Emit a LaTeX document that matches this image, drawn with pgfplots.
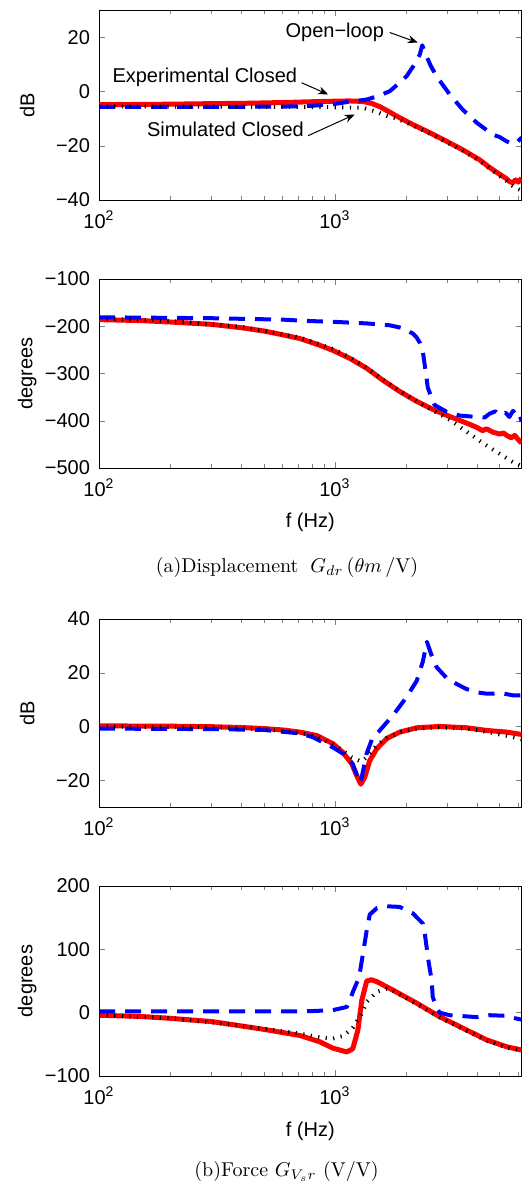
\documentclass[border=0pt]{standalone}
\usepackage{pgfplots}
\pgfplotsset{compat=1.18}
\usepackage{fontspec}
\newfontfamily\helv{Liberation Sans}
\usetikzlibrary{arrows.meta}
\definecolor{mred}{RGB}{255,0,0}
\definecolor{mblue}{RGB}{0,0,255}

\pgfplotsset{every axis/.append style={
    width=211.3pt, scale only axis,
    xmin=100, xmax=6200,
    xtick={100,1000}, xticklabels={10\textsuperscript{2},10\textsuperscript{3}},
    minor xtick={200,300,400,500,600,700,800,900,2000,3000,4000,5000,6000},
    tick align=inside, major tick length=3pt, minor tick length=2pt,
    tick label style={font=\helv\fontsize{10}{12}\selectfont},
    xticklabel style={yshift=-2pt},
    yticklabel style={xshift=-1pt},
    label style={font=\helv\fontsize{10}{12}\selectfont},
    ylabel style={at={(axis description cs:-0.17,0.5)}, anchor=center},
    xlabel style={at={(axis description cs:0.5,-0.29)}, anchor=center},
}}

\begin{document}
\begin{tikzpicture}
\useasboundingbox (0,0) rectangle (263.5pt,-593pt);

% ---------- Axis 1: displacement magnitude ----------
\begin{axis}[xmode=log, at={(49.5pt,-100pt)}, anchor=south west, height=95pt,
  ymin=-40, ymax=30, ytick={-40,-20,0,20}, yticklabels={−40,−20,0,20},
  ylabel={dB}]
\addplot[mred, line width=2.5pt, line join=round, mark=none] coordinates {(100,-4.9)(150,-4.8)(200,-4.7)(300,-4.5)(400,-4.4)(600,-4.1)(800,-3.8)(1000,-3.6)(1150,-3.5)(1314,-3.7)(1430,-4.4)(1551,-5.6)(1700,-7.5)(1831,-9.1)(2140,-12.2)(2527,-15.2)(2983,-18.4)(3486,-21.5)(4116,-25.2)(4500,-27.8)(4859,-29.8)(5100,-31)(5357,-32.2)(5500,-33.2)(5679,-33.6)(5850,-32.6)(6000,-33.4)(6200,-32)};
\addplot[mblue, line width=2pt, line join=round, dash pattern=on 8pt off 5pt, mark=none] coordinates {(100,-5.7)(300,-5.7)(600,-5.6)(800,-5.3)(1000,-4.6)(1150,-3.8)(1366,-3)(1550,-1.5)(1711,0.1)(1900,3.5)(2019,5.7)(2200,10.5)(2292,13.5)(2350,17)(2420,14)(2550,9.5)(2706,5.5)(3071,-1.1)(3486,-6.7)(3997,-11.5)(4672,-15.9)(5002,-16.8)(5357,-18.4)(5700,-19.3)(5905,-18.9)(6200,-17)};
\addplot[black, line width=2pt, dash pattern=on 0.6pt off 3.2pt, mark=none] coordinates {(100,-5.5)(300,-5.6)(600,-5.7)(900,-5.8)(1100,-5.9)(1314,-6.0)(1500,-7.5)(1657,-9)(1831,-10)(2140,-12.5)(2527,-15.5)(2983,-18.7)(3486,-21.8)(4116,-25.6)(4859,-30.3)(5357,-33)(5679,-34.8)(6000,-36)(6200,-36.6)};
\node[font=\helv\fontsize{10}{12}\selectfont] at (axis cs:1000,21.9) {Open−loop};
\draw[-{Stealth[length=5pt,width=4pt]}, line width=0.5pt] (axis cs:1711,21.7) -- (axis cs:2248,18.0);
\node[font=\helv\fontsize{10}{12}\selectfont] at (axis cs:281,5.1) {Experimental Closed};
\draw[-{Stealth[length=5pt,width=4pt]}, line width=0.5pt] (axis cs:723,3.2) -- (axis cs:937,-1.1);
\node[font=\helv\fontsize{10}{12}\selectfont] at (axis cs:344,-14.1) {Simulated Closed};
\draw[-{Stealth[length=5pt,width=4pt]}, line width=0.5pt] (axis cs:771,-16.3) -- (axis cs:1215,-8.5);
\end{axis}

% ---------- Axis 2: displacement phase ----------
\begin{axis}[xmode=log, at={(49.5pt,-234pt)}, anchor=south west, height=94.5pt,
  ymin=-500, ymax=-100, ytick={-500,-400,-300,-200,-100}, yticklabels={−500,−400,−300,−200,−100},
  ylabel={degrees}, xlabel={f (Hz)}]
\addplot[mred, line width=2.5pt, line join=round, mark=none] coordinates {(100,-186)(150,-188)(200,-191)(300,-196)(400,-203)(500,-210)(600,-218)(711,-226)(850,-239)(981,-251)(1158,-268)(1366,-289)(1597,-314)(1886,-338)(2226,-359)(2602,-376)(3071,-391)(3625,-405)(4000,-414)(4238,-421)(4400,-417)(4672,-424)(5000,-428)(5200,-426)(5357,-431)(5600,-436)(5800,-431)(6000,-440)(6200,-447)};
\addplot[mblue, line width=2pt, line join=round, dash pattern=on 8pt off 5pt, mark=none] coordinates {(100,-181)(300,-183)(600,-186)(783,-189)(1020,-191)(1366,-194)(1711,-198)(1900,-203)(2019,-208)(2150,-216)(2226,-224)(2300,-236)(2360,-252)(2420,-290)(2480,-330)(2576,-352)(2652,-367)(2983,-381)(3386,-389)(4000,-392)(4322,-393)(4538,-385)(4800,-380)(5002,-388)(5300,-383)(5500,-392)(5700,-379)(5900,-388)(6050,-384)(6200,-402)};
\addplot[black, line width=2pt, dash pattern=on 0.6pt off 3.2pt, mark=none] coordinates {(100,-184)(200,-189)(400,-201)(711,-224)(981,-248)(1158,-266)(1366,-288)(1597,-313)(1886,-337)(2226,-359)(2602,-378)(3071,-398)(3625,-423)(4238,-447)(4859,-466)(5679,-487)(6200,-496)};
\end{axis}

\node[anchor=center, font=\fontsize{10}{12}\selectfont] at (143.5pt,-283.5pt) {(a)Displacement\hspace{6pt}$G_{dr}\,(\theta m\,/\mathrm{V})$};

% ---------- Axis 3: force magnitude ----------
\begin{axis}[xmode=log, at={(49.5pt,-403.5pt)}, anchor=south west, height=94pt,
  ymin=-30, ymax=40, ytick={-20,0,20,40}, yticklabels={−20,0,20,40},
  ylabel={dB}]
\addplot[mred, line width=2.5pt, line join=round, mark=none] coordinates {(100,0.2)(200,0.1)(300,-0.1)(400,-0.4)(500,-0.8)(600,-1.3)(711,-2.1)(839,-3.4)(981,-6.4)(1081,-9.6)(1180,-13.9)(1239,-18.3)(1289,-21.5)(1340,-18.9)(1407,-12.7)(1507,-8.3)(1661,-4.5)(1886,-2.1)(2226,-0.5)(2786,0)(3625,-0.5)(4407,-1.5)(5357,-2.1)(6200,-3)};
\addplot[mblue, line width=2pt, line join=round, dash pattern=on 8pt off 5pt, mark=none] coordinates {(100,-0.8)(300,-1.0)(500,-1.3)(711,-2.6)(807,-4)(981,-7.8)(1100,-10.5)(1192,-14)(1250,-19)(1276,-21)(1300,-19)(1366,-10)(1435,-5)(1551,-1.5)(1700,2.5)(1831,6)(2019,11)(2226,17)(2360,24)(2460,31.5)(2560,27)(2706,22)(2983,18)(3288,15.8)(3600,14)(3997,12.7)(4407,12.2)(5150,12.3)(5679,11.6)(6200,11.5)};
\addplot[black, line width=2pt, dash pattern=on 0.6pt off 3.2pt, mark=none] coordinates {(100,0)(300,-0.3)(500,-1)(711,-2.4)(839,-3.8)(981,-6.6)(1081,-9)(1180,-11.5)(1289,-13)(1340,-12)(1407,-10)(1507,-7)(1661,-4.3)(1886,-2.2)(2226,-0.8)(2786,-0.3)(3625,-0.8)(4407,-2)(5357,-3.5)(6200,-4.8)};
\end{axis}

% ---------- Axis 4: force phase ----------
\begin{axis}[xmode=log, at={(49.5pt,-538pt)}, anchor=south west, height=95pt,
  ymin=-100, ymax=200, ytick={-100,0,100,200}, yticklabels={−100,0,100,200},
  ylabel={degrees}, xlabel={f (Hz)}]
\addplot[mred, line width=2.5pt, line join=round, mark=none] coordinates {(100,-4)(150,-6)(194,-8.5)(300,-14)(371,-19)(513,-27)(711,-36)(864,-46)(981,-56)(1124,-62)(1192,-57)(1252,-28)(1302,19.6)(1366,50)(1430,52)(1507,49)(1761,35.8)(2226,15)(2786,-6.4)(3625,-27.4)(4407,-43)(5357,-53.8)(6200,-59)};
\addplot[mblue, line width=2pt, line join=round, dash pattern=on 8pt off 5pt, mark=none] coordinates {(100,2)(300,2)(600,2)(800,2.5)(981,4)(1124,9)(1158,20)(1200,35)(1252,51)(1276,62)(1366,130)(1407,155)(1507,165)(1661,168)(1886,167)(2140,157)(2360,141)(2406,126)(2500,80)(2576,51)(2602,25)(2700,8)(2786,0)(3071,-4)(3997,-7)(4538,-4)(5357,-5)(5679,-8)(6200,-11)};
\addplot[black, line width=2pt, dash pattern=on 0.6pt off 3.2pt, mark=none] coordinates {(100,-4)(194,-8.5)(371,-19)(513,-26)(711,-33)(864,-39)(981,-41)(1081,-37)(1192,-24)(1302,-1)(1366,17)(1507,33)(1661,38)(1761,35)(2226,14)(2786,-7.5)(3625,-28.5)(4407,-44)(5357,-55)(6200,-60)};
\end{axis}

\node[anchor=center, font=\fontsize{10}{12}\selectfont] at (143.3pt,-585.8pt) {(b)Force $G_{V_sr}$ (V/V)};
\end{tikzpicture}
\end{document}
